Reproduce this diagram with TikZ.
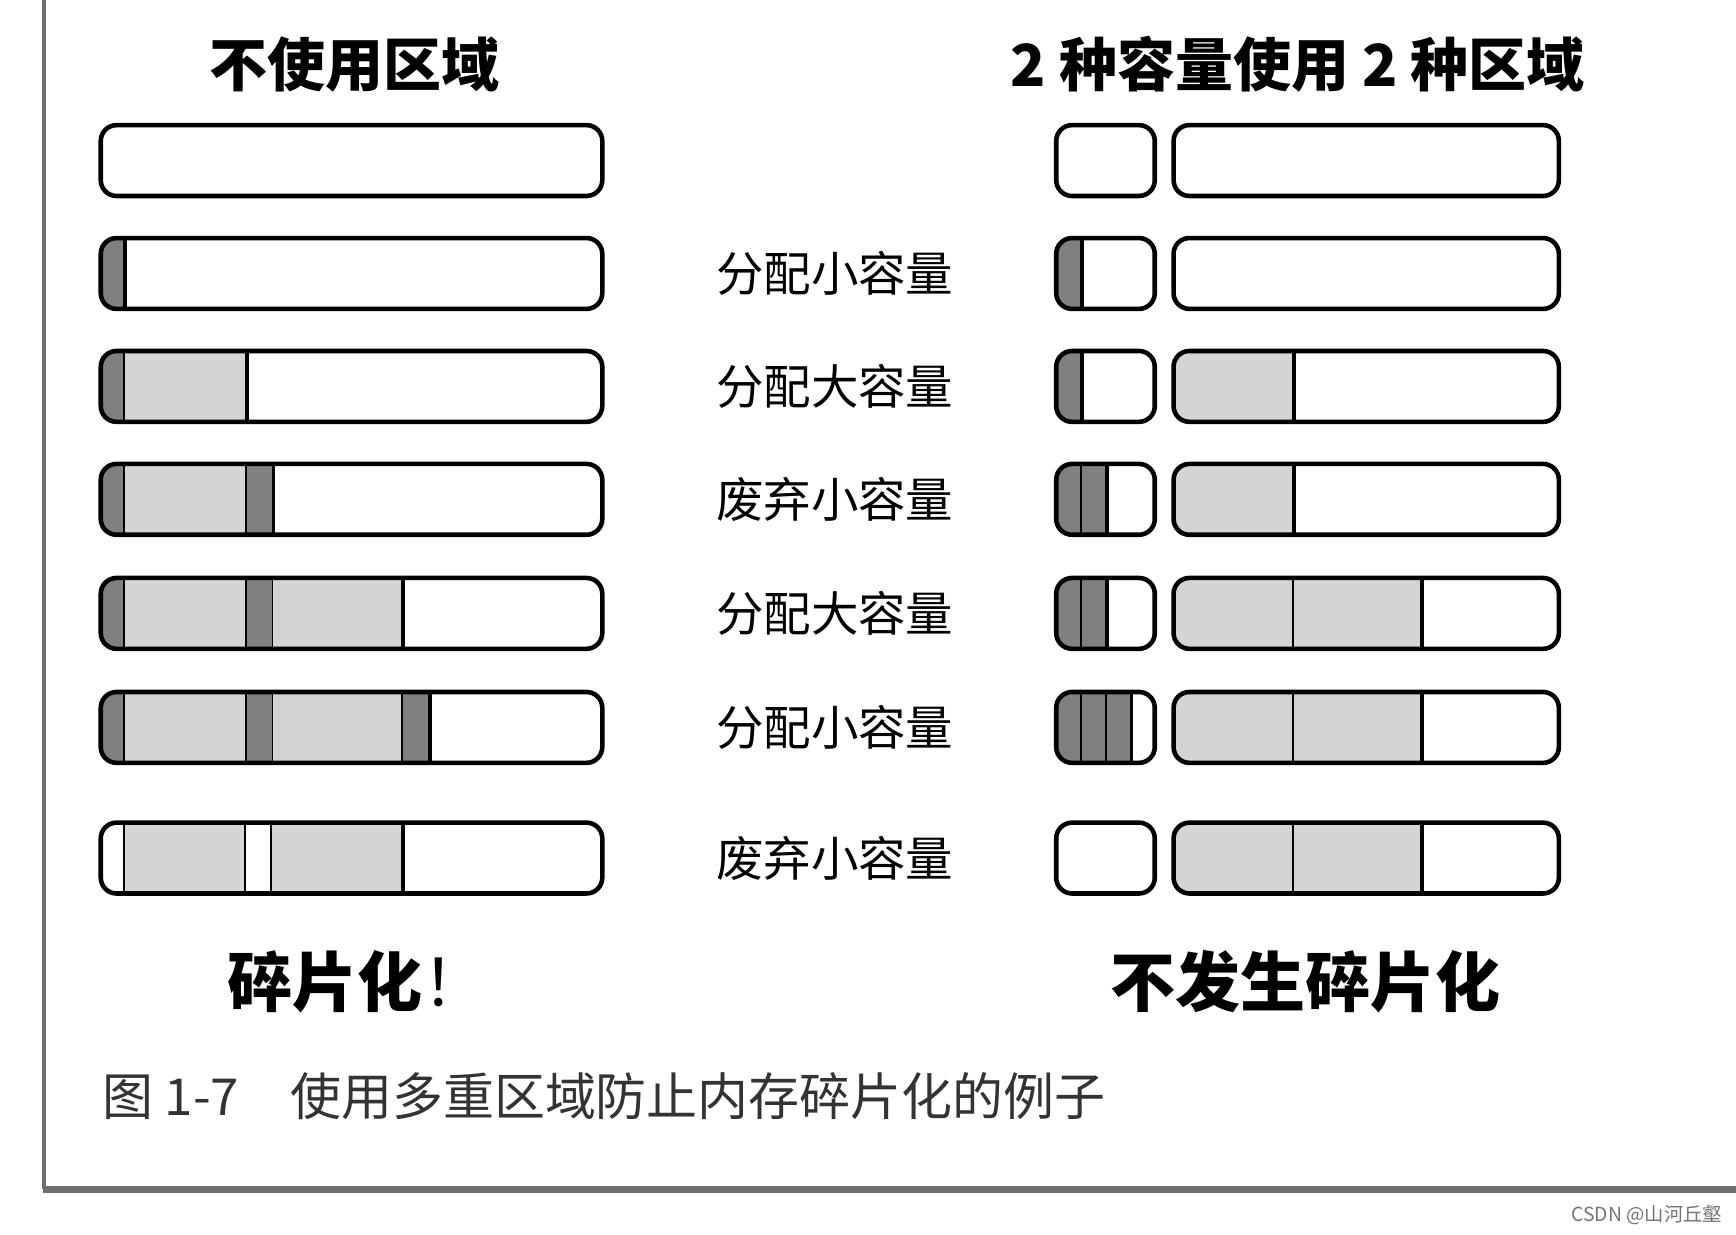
\documentclass[tikz,border=0pt]{standalone}
\usepackage{fontspec}
\newfontfamily\cjk{Noto Sans CJK SC}
\usepackage{tikz}
\usetikzlibrary{positioning}

\tikzset{
  barLine/.style={line width=1.3pt, rounded corners=4.5pt},
  sepLine/.style={line width=1.1pt},
  titleText/.style={font=\cjk\bfseries\fontsize{16.5pt}{16.5pt}\selectfont, inner sep=0pt},
  opText/.style={font=\cjk\fontsize{13.5pt}{13.5pt}\selectfont, inner sep=0pt},
  resultText/.style={font=\cjk\bfseries\fontsize{18.5pt}{18.5pt}\selectfont, inner sep=0pt},
}

% bar from #1 to #2 at height #3, filled parts #4 (from/to/colour)
\newcommand{\memBar}[4]{%
  \begin{scope}
    \clip[rounded corners=4.5pt] (#1,#3-32) rectangle (#2,#3+32);
    \foreach \a/\b/\c in {#4} {
      \fill[color=\c] (\a,#3-32) rectangle (\b,#3+32);
      \draw[sepLine] (\b,#3-32) -- (\b,#3+32);
    }
  \end{scope}
  \draw[barLine] (#1,#3-32) rectangle (#2,#3+32);}
\newcommand{\memEmpty}[3]{\draw[barLine] (#1,#3-32) rectangle (#2,#3+32);}

\begin{document}
\begin{tikzpicture}[x=0.1107mm,y=-0.1107mm]
\useasboundingbox (0,0) rectangle (1568,1114.6);
\definecolor{smallColor}{RGB}{128,128,128}
\definecolor{bigColor}{RGB}{212,212,212}
\definecolor{frameColor}{RGB}{110,110,110}
% page frame
\draw[frameColor,line width=1.2pt] (40,0) -- (40,1074);
\draw[frameColor,line width=2pt] (39,1074) -- (1568,1074);

\node[titleText] (titleLeft) at (320,58) {不使用区域};
\node[titleText,anchor=west] (titleRight) at (912,58) {2 种容量使用 2 种区域};

% left: one region
\memEmpty{91}{544}{145}
\memBar{91}{544}{247}{91/113/smallColor}
\memBar{91}{544}{349}{91/113/smallColor, 113/223/bigColor}
\memBar{91}{544}{451}{91/113/smallColor, 113/223/bigColor, 223/247/smallColor}
\memBar{91}{544}{554}{91/113/smallColor, 113/223/bigColor, 223/247/smallColor, 247/364/bigColor}
\memBar{91}{544}{657}{91/113/smallColor, 113/223/bigColor, 223/247/smallColor, 247/364/bigColor, 364/388/smallColor}
\memBar{91}{544}{775}{91/113/white, 113/222/bigColor, 222/246/white, 246/364/bigColor}

% right: small region
\memEmpty{954}{1043}{145}
\memBar{954}{1043}{247}{954/977/smallColor}
\memBar{954}{1043}{349}{954/977/smallColor}
\memBar{954}{1043}{451}{954/977/smallColor, 977/1000/smallColor}
\memBar{954}{1043}{554}{954/977/smallColor, 977/1000/smallColor}
\memBar{954}{1043}{657}{954/977/smallColor, 977/1000/smallColor, 1000/1022/smallColor}
\memEmpty{954}{1043}{775}

% right: big region
\memEmpty{1060}{1408}{145}
\memEmpty{1060}{1408}{247}
\memBar{1060}{1408}{349}{1060/1169/bigColor}
\memBar{1060}{1408}{451}{1060/1169/bigColor}
\foreach \y in {554,657,775} {
  \memBar{1060}{1408}{\y}{1060/1169/bigColor, 1169/1284/bigColor}
}

\foreach \y/\t [count=\i] in {247/分配小容量, 349/分配大容量, 451/废弃小容量, 554/分配大容量, 657/分配小容量, 775/废弃小容量}
  \node[opText] (op\i) at (754,\y) {\t};

\node[resultText,anchor=west] (resultLeft) at (205,887) {碎片化{\cjk\mdseries ！}};
\node[resultText] (resultRight) at (1179,887) {不发生碎片化};

\node[font=\cjk\fontsize{14.5pt}{14.5pt}\selectfont,inner sep=0pt,anchor=west,text=black!80] (caption) at (92,990) {图 1-7　使用多重区域防止内存碎片化的例子};
\node[font=\cjk\fontsize{5.5pt}{5.5pt}\selectfont,inner sep=0pt,anchor=east,text=black!55] (mark) at (1556,1097) {CSDN @山河丘壑};
\end{tikzpicture}
\end{document}
